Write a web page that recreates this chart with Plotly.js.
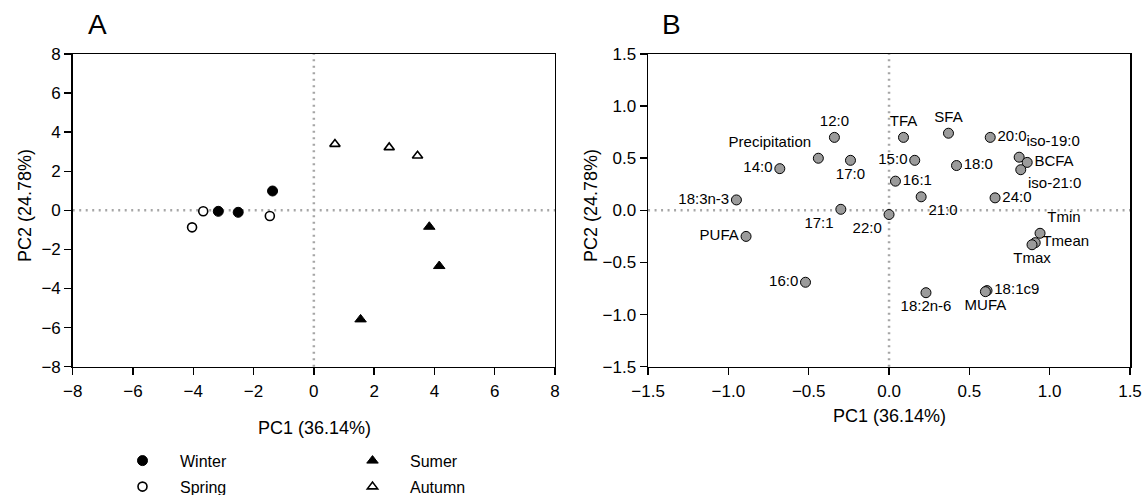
<!DOCTYPE html>
<html>
<head>
<meta charset="utf-8">
<script src="https://cdn.plot.ly/plotly-3.0.1.min.js"></script>
<style>html,body{margin:0;padding:0;background:#fff;}#chart{width:1145px;height:495px;}</style>
</head>
<body>
<div id="chart"></div>
<script>
// Panel A: PCA scores by season
const winterX = [-3.17, -2.51, -1.37];
const winterY = [-0.05, -0.10, 0.99];
const springX = [-4.04, -3.67, -1.46];
const springY = [-0.87, -0.05, -0.29];
const sumerX = [3.83, 4.16, 1.55];
const sumerY = [-0.84, -2.85, -5.58];
const autumnX = [0.70, 2.50, 3.44];
const autumnY = [3.39, 3.22, 2.79];

// Panel B: loadings
const varLabels = ['12:0','TFA','SFA','20:0','Precipitation','17:0','15:0','14:0','18:0','iso-19:0','BCFA','iso-21:0','16:1','18:3n-3','21:0','24:0','17:1','22:0','PUFA','Tmin','Tmean','Tmax','16:0','18:2n-6','18:1c9','MUFA'];
const pc1 = [-0.34, 0.09, 0.37, 0.63, -0.44, -0.24, 0.16, -0.68, 0.42, 0.81, 0.86, 0.82, 0.04, -0.95, 0.20, 0.66, -0.30, 0.00, -0.89, 0.94, 0.91, 0.89, -0.52, 0.23, 0.61, 0.60];
const pc2 = [0.70, 0.70, 0.74, 0.70, 0.50, 0.48, 0.48, 0.40, 0.43, 0.51, 0.46, 0.39, 0.28, 0.10, 0.13, 0.12, 0.01, -0.04, -0.25, -0.22, -0.31, -0.33, -0.69, -0.79, -0.77, -0.78];
const labelPos = ['top center','top center','top center','middle right','top left','bottom center','middle left','middle left','middle right','top right','middle right','bottom right','middle right','middle left','bottom right','middle right','bottom left','bottom left','middle left','top right','middle right','bottom center','middle left','bottom center','middle right','bottom center'];

const FONT = 'Liberation Sans, Arial, sans-serif';

const traces = [
  {x: winterX, y: winterY, name: 'Winter', type: 'scatter', mode: 'markers', xaxis: 'x', yaxis: 'y',
   legend: 'legend',
   marker: {symbol: 'circle', size: 10, color: '#000', line: {color: '#000', width: 1}}},
  {x: springX, y: springY, name: 'Spring', type: 'scatter', mode: 'markers', xaxis: 'x', yaxis: 'y',
   legend: 'legend2',
   marker: {symbol: 'circle', size: 9, color: '#fff', line: {color: '#000', width: 1.6}}},
  {x: sumerX, y: sumerY, name: 'Sumer', type: 'scatter', mode: 'markers', xaxis: 'x', yaxis: 'y',
   legend: 'legend3',
   marker: {symbol: 'triangle-up', size: 10, color: '#000', line: {color: '#000', width: 1}}},
  {x: autumnX, y: autumnY, name: 'Autumn', type: 'scatter', mode: 'markers', xaxis: 'x', yaxis: 'y',
   legend: 'legend4',
   marker: {symbol: 'triangle-up', size: 9, color: '#fff', line: {color: '#000', width: 1.6}}},
  {x: pc1, y: pc2, text: varLabels, textposition: labelPos, type: 'scatter', mode: 'markers+text',
   xaxis: 'x2', yaxis: 'y2', showlegend: false, cliponaxis: false,
   textfont: {family: FONT, size: 15, color: '#000'},
   marker: {symbol: 'circle', size: 10, color: '#9b9b9b', line: {color: '#000', width: 1}}}
];

const axBase = {
  showgrid: false, zeroline: false, showline: true, linecolor: '#000', linewidth: 1.5,
  mirror: true, ticks: 'outside', ticklen: 7, tickwidth: 1.5, tickcolor: '#000',
  tickfont: {family: FONT, size: 17, color: '#000'}
};

const dotLine = {color: '#a6a6a6', width: 2.5, dash: '2px,4.5px'};

function leg(xpx, ypx) {
  return {x: xpx / 1145, y: 1 - ypx / 495, xanchor: 'left', yanchor: 'middle', orientation: 'v',
          itemwidth: 65, bgcolor: 'rgba(0,0,0,0)', font: {family: FONT, size: 16, color: '#000'}};
}

const titleFont = {family: FONT, size: 18, color: '#000'};

const layout = {
  width: 1145, height: 495,
  margin: {l: 0, r: 0, t: 0, b: 0, autoexpand: false},
  paper_bgcolor: '#fff', plot_bgcolor: '#fff',
  font: {family: FONT, color: '#000'},
  hovermode: false,
  xaxis: Object.assign({}, axBase, {domain: [0.0635, 0.4847], range: [-8, 8], dtick: 2, anchor: 'y', ticklabelstandoff: 1}),
  yaxis: Object.assign({}, axBase, {domain: [0.2592, 0.8909], range: [-8, 8], dtick: 2, anchor: 'x'}),
  xaxis2: Object.assign({}, axBase, {domain: [0.566, 0.9869], range: [-1.5, 1.5], dtick: 0.5, tickformat: '.1f', anchor: 'y2', ticklabelstandoff: 1}),
  yaxis2: Object.assign({}, axBase, {domain: [0.2592, 0.8909], range: [-1.5, 1.5], dtick: 0.5, tickformat: '.1f', anchor: 'x2'}),
  shapes: [
    {type: 'line', xref: 'x domain', yref: 'y', x0: 0, x1: 1, y0: 0, y1: 0, line: dotLine, layer: 'below'},
    {type: 'line', xref: 'x', yref: 'y domain', x0: 0, x1: 0, y0: 0, y1: 1, line: dotLine, layer: 'below'},
    {type: 'line', xref: 'x2 domain', yref: 'y2', x0: 0, x1: 1, y0: 0, y1: 0, line: dotLine, layer: 'below'},
    {type: 'line', xref: 'x2', yref: 'y2 domain', x0: 0, x1: 0, y0: 0, y1: 1, line: dotLine, layer: 'below'}
  ],
  annotations: [
    {text: 'A', xref: 'paper', yref: 'paper', x: 97/1145, y: 1 - 25/495, xanchor: 'center', yanchor: 'middle', showarrow: false, font: {family: FONT, size: 28, color: '#000'}},
    {text: 'B', xref: 'paper', yref: 'paper', x: 672/1145, y: 1 - 25/495, xanchor: 'center', yanchor: 'middle', showarrow: false, font: {family: FONT, size: 28, color: '#000'}},
    {text: 'PC1 (36.14%)', xref: 'paper', yref: 'paper', x: 314/1145, y: 1 - 428/495, xanchor: 'center', yanchor: 'middle', showarrow: false, font: titleFont},
    {text: 'PC2 (24.78%)', xref: 'paper', yref: 'paper', x: 25/1145, y: 1 - 206/495, xanchor: 'center', yanchor: 'middle', textangle: -90, showarrow: false, font: titleFont},
    {text: 'PC1 (36.14%)', xref: 'paper', yref: 'paper', x: 889/1145, y: 1 - 416/495, xanchor: 'center', yanchor: 'middle', showarrow: false, font: titleFont},
    {text: 'PC2 (24.78%)', xref: 'paper', yref: 'paper', x: 591/1145, y: 1 - 206/495, xanchor: 'center', yanchor: 'middle', textangle: -90, showarrow: false, font: titleFont}
  ],
  legend: leg(105, 460.7),
  legend2: leg(105, 486.7),
  legend3: leg(335, 460.7),
  legend4: leg(335, 486.7)
};

Plotly.newPlot('chart', traces, layout, {displayModeBar: false, staticPlot: true});
</script>
</body>
</html>
